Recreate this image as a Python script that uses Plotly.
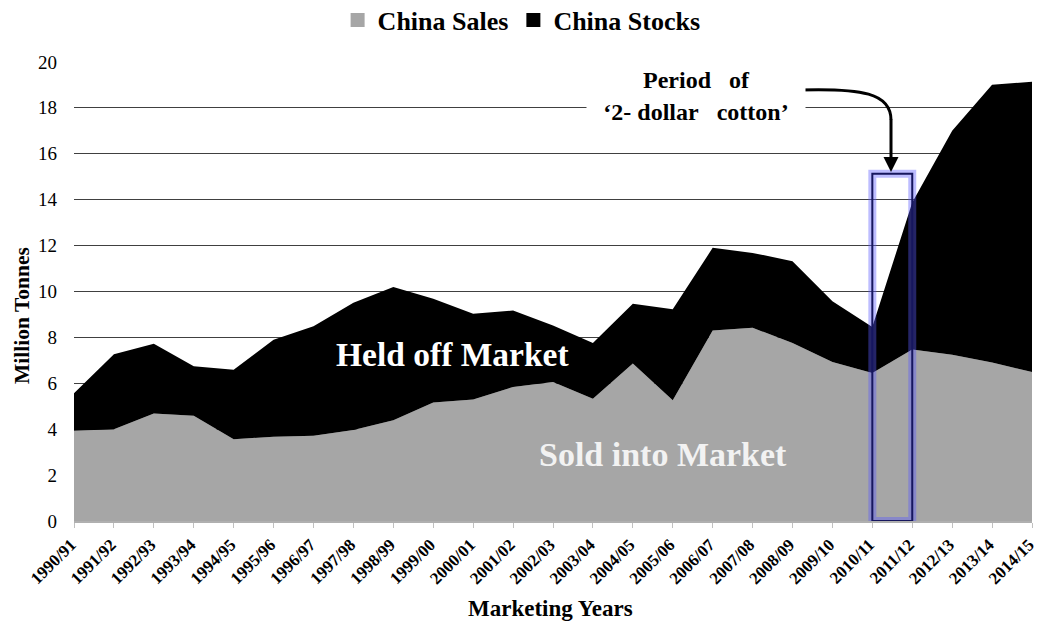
import plotly.graph_objects as go

# Marketing years (x categories)
years = [
    "1990/91", "1991/92", "1992/93", "1993/94", "1994/95", "1995/96",
    "1996/97", "1997/98", "1998/99", "1999/00", "2000/01", "2001/02",
    "2002/03", "2003/04", "2004/05", "2005/06", "2006/07", "2007/08",
    "2008/09", "2009/10", "2010/11", "2011/12", "2012/13", "2013/14",
    "2014/15",
]

# Million tonnes
china_sales = [
    3.93, 4.00, 4.68, 4.59, 3.56, 3.67, 3.71, 3.96, 4.39, 5.16, 5.29, 5.84,
    6.06, 5.33, 6.86, 5.26, 8.30, 8.42, 7.75, 6.93, 6.45, 7.47, 7.24, 6.90,
    6.49,
]
china_stocks = [
    1.64, 3.26, 3.04, 2.15, 3.03, 4.23, 4.77, 5.55, 5.80, 4.52, 3.74, 3.33,
    2.46, 2.42, 2.60, 3.96, 3.60, 3.26, 3.57, 2.64, 2.00, 6.41, 9.76, 12.10,
    12.65,
]

y_ticks = [0, 2, 4, 6, 8, 10, 12, 14, 16, 18, 20]

# "2-dollar cotton" period box
period_start = "2010/11"
period_end = "2011/12"
period_top = 15.13

FONT = "Liberation Serif, Times New Roman, serif"
GRAY = "#a6a6a6"

# plot area in pixels (for placing annotations in paper coordinates)
L, R, T, B = 74, 1032, 61, 521


def px(x):
    return (x - L) / (R - L)


def py(y):
    return (B - y) / (B - T)


fig = go.Figure()

fig.add_trace(go.Scatter(
    x=years, y=china_sales, stackgroup="one", mode="none",
    fillcolor=GRAY, name="China Sales", showlegend=False,
    hoverinfo="x+y"
))
fig.add_trace(go.Scatter(
    x=years, y=china_stocks, stackgroup="one", mode="none",
    fillcolor="#000000", name="China Stocks", showlegend=False,
    hoverinfo="x+y"
))

# legend-only entries with square swatches
for name, color in [("China Sales", GRAY), ("China Stocks", "#000000")]:
    fig.add_trace(go.Scatter(
        x=[None], y=[None], mode="markers", name=name,
        marker=dict(symbol="square", size=14, color=color)
    ))

i0 = years.index(period_start)
i1 = years.index(period_end)

# glow + border of the highlight box
fig.add_shape(type="rect", xref="x", yref="y", x0=i0, x1=i1, y0=0,
              y1=period_top, line=dict(color="rgba(90,90,255,0.4)", width=8),
              fillcolor="rgba(0,0,0,0)", layer="above")
fig.add_shape(type="rect", xref="x", yref="y", x0=i0, x1=i1, y0=0,
              y1=period_top, line=dict(color="#16165e", width=2),
              fillcolor="rgba(0,0,0,0)", layer="above")

# curved arrow from the label to the box
fig.add_shape(
    type="path", xref="paper", yref="paper",
    path=(f"M {px(798)},{py(90)} C {px(862)},{py(88)} {px(891)},{py(93)} "
          f"{px(891)},{py(120)}"),
    line=dict(color="#000000", width=3)
)

mid = dict(xref="paper", yref="paper", xanchor="center", yanchor="middle",
           showarrow=False)

annotations = [
    dict(x=px(891), y=py(172), xref="paper", yref="paper", text="",
         showarrow=True, ax=0, ay=-54, arrowhead=2, arrowsize=1,
         arrowwidth=3, arrowcolor="#000000"),
    dict(mid, x=px(696), y=py(96),
         text="<b>Period\u00a0\u00a0 of</b><br><b>‘2- dollar\u00a0\u00a0 cotton’</b>",
         bgcolor="#ffffff", width=216, height=80,
         font=dict(family=FONT, size=24, color="#000000")),
    dict(mid, x=px(452), y=py(354), text="<b>Held off Market</b>",
         font=dict(family=FONT, size=33.5, color="#ffffff")),
    dict(mid, x=px(663), y=py(454), text="<b>Sold into Market</b>",
         font=dict(family=FONT, size=34, color="#f2f2f2")),
    dict(mid, x=px(550), y=py(608), text="<b>Marketing Years</b>",
         font=dict(family=FONT, size=23, color="#000000")),
    dict(mid, x=px(22), y=py(316), text="<b>Million Tonnes</b>",
         textangle=-90,
         font=dict(family=FONT, size=21.5, color="#000000")),
]

fig.update_layout(
    width=1037, height=630,
    margin=dict(l=L, r=1037 - R, t=T, b=630 - B, autoexpand=False),
    paper_bgcolor="#ffffff", plot_bgcolor="#ffffff",
    font=dict(family=FONT, color="#000000"),
    showlegend=True,
    legend=dict(
        orientation="h", xref="container", yref="container",
        x=0.503, y=0.968, xanchor="center", yanchor="middle",
        traceorder="normal",
        font=dict(family=FONT, size=26, color="#000000", weight="bold"),
        itemclick=False
    ),
    annotations=annotations,
    hovermode="x unified",
)

fig.update_xaxes(
    type="category", range=[0, len(years) - 1],
    automargin=False,
    showgrid=False, zeroline=False,
    showline=True, linecolor="#b0b0b0", linewidth=2,
    ticks="outside", ticklen=5, tickcolor="#c0c0c0",
    tickangle=-45, ticklabelshift=-3,
    tickfont=dict(family=FONT, size=17, color="#000000", weight="bold"),
)
fig.update_yaxes(
    range=[0, 20.04], tickvals=y_ticks,
    automargin=False,
    showgrid=True, gridcolor="#404040", gridwidth=1,
    zeroline=False, showline=False,
    ticklabelstandoff=16,
    tickfont=dict(family=FONT, size=19, color="#000000"),
)

# the page's default 8px body margin would shift the figure
fig.write_html("out.html", config={"displayModeBar": False},
               post_script="document.body.style.margin='0px';")
